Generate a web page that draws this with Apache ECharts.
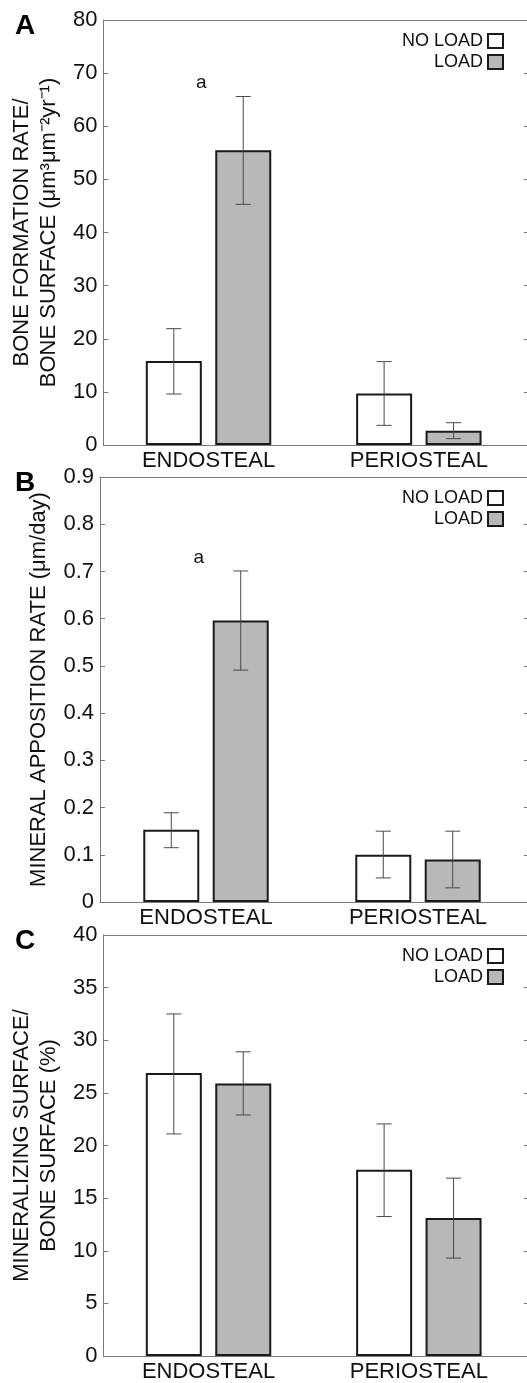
<!DOCTYPE html>
<html>
<head>
<meta charset="utf-8">
<script src="https://cdn.jsdelivr.net/npm/echarts@6/dist/echarts.min.js"></script>
<style>
  html, body { margin: 0; padding: 0; background: #fff; }
  #chart { width: 527px; height: 1383px; }
</style>
</head>
<body>
<div id="chart"></div>
<script>
// categories and series names
var sites = ['ENDOSTEAL', 'PERIOSTEAL'];
var groups = ['NO LOAD', 'LOAD'];

// panel A - bone formation rate
var bfrNoLoad = [15.8, 9.7];
var bfrNoLoadErr = [[9.6, 21.9], [3.7, 15.7]];
var bfrLoad = [55.5, 2.7];
var bfrLoadErr = [[45.3, 65.6], [1.2, 4.2]];

// panel B - mineral apposition rate
var marNoLoad = [0.153, 0.100];
var marNoLoadErr = [[0.115, 0.189], [0.051, 0.150]];
var marLoad = [0.596, 0.090];
var marLoadErr = [[0.491, 0.701], [0.030, 0.150]];

// panel C - mineralizing surface
var msNoLoad = [26.9, 17.7];
var msNoLoadErr = [[21.1, 32.5], [13.25, 22.05]];
var msLoad = [25.9, 13.1];
var msLoadErr = [[22.9, 28.9], [9.3, 16.9]];

// y axis ranges
var yMax = [80, 0.9, 40];
var yStep = [10, 0.1, 5];
var yNames = [
  'BONE FORMATION RATE/\nBONE SURFACE (μm³μm⁻²yr⁻¹)',
  'MINERAL APPOSITION RATE (μm/day)',
  'MINERALIZING SURFACE/\nBONE SURFACE (%)'
];
var panelLetters = ['A', 'B', 'C'];
// significance marks: [panel, site, value, text]
var sigMarks = [[0, 'ENDOSTEAL', 68.2, 'a'], [1, 'ENDOSTEAL', 0.73, 'a']];

var panels = [
  { noLoad: bfrNoLoad, noLoadErr: bfrNoLoadErr, load: bfrLoad, loadErr: bfrLoadErr },
  { noLoad: marNoLoad, noLoadErr: marNoLoadErr, load: marLoad, loadErr: marLoadErr },
  { noLoad: msNoLoad, noLoadErr: msNoLoadErr, load: msLoad, loadErr: msLoadErr }
];

var font = 'Liberation Sans, Arial, Helvetica, sans-serif';
var gridTops = [20, 477, 935];
var gridH = 425;
var barW = 56;
var barGap = '24%';
var axisGray = '#7a7a7a';

var grids = [], xAxes = [], yAxes = [], series = [], legends = [], titles = [];

panels.forEach(function (p, i) {
  grids.push({ left: 100, right: 3, top: gridTops[i], height: gridH });
  xAxes.push({
    type: 'category', gridIndex: i, data: sites,
    axisLine: { onZero: false, lineStyle: { color: axisGray, width: 1 } },
    axisTick: { show: false },
    axisLabel: { color: '#111', fontSize: 22, fontFamily: font, margin: 5 }
  });
  // top frame line
  xAxes.push({
    type: 'category', gridIndex: i, data: sites, position: 'top',
    axisLine: { show: true, onZero: false, lineStyle: { color: axisGray, width: 1 } },
    axisTick: { show: false }, axisLabel: { show: false }
  });
  yAxes.push({
    type: 'value', gridIndex: i, min: 0, max: yMax[i], interval: yStep[i],
    name: yNames[i], nameLocation: 'middle', nameGap: i === 1 ? 41 : 37,
    nameTextStyle: { color: '#111', fontSize: 22, fontFamily: font, lineHeight: 27 },
    axisLine: { show: true, lineStyle: { color: axisGray } },
    axisTick: { show: true, inside: true, length: 5, lineStyle: { color: axisGray } },
    axisLabel: { color: '#111', fontSize: 22, fontFamily: font, margin: 6 },
    splitLine: { show: false }
  });
  yAxes.push({
    type: 'value', gridIndex: i, position: 'right', min: 0, max: yMax[i], interval: yStep[i],
    axisLine: { show: false },
    axisTick: { show: true, inside: false, length: 5, lineStyle: { color: axisGray } },
    axisLabel: { show: false },
    splitLine: { show: false }
  });

  var marks = sigMarks.filter(function (m) { return m[0] === i; }).map(function (m) {
    return { coord: [m[1], m[2]], value: m[3] };
  });

  series.push({
    name: groups[0], type: 'bar', xAxisIndex: i * 2, yAxisIndex: i * 2,
    data: p.noLoad, barWidth: barW, barGap: barGap,
    itemStyle: { color: '#ffffff', borderColor: '#1a1a1a', borderWidth: 2 }
  });
  series.push({
    name: groups[1], type: 'bar', xAxisIndex: i * 2, yAxisIndex: i * 2,
    data: p.load, barWidth: barW, barGap: barGap,
    itemStyle: { color: '#b8b8b8', borderColor: '#1a1a1a', borderWidth: 2 },
    markPoint: marks.length ? {
      symbol: 'circle', symbolSize: 0, silent: true,
      label: { show: true, formatter: '{c}', color: '#111', fontSize: 19, fontFamily: font, offset: [-42, 0] },
      data: marks
    } : undefined
  });

  // error bars, offset to the same slot as each bar
  [[p.noLoadErr, -1], [p.loadErr, 1]].forEach(function (e) {
    var errs = e[0], side = e[1];
    series.push({
      type: 'custom', xAxisIndex: i * 2, yAxisIndex: i * 2, silent: true, z: 5,
      data: errs.map(function (r, k) { return [k, r[0], r[1]]; }),
      renderItem: function (params, api) {
        var lo = api.coord([api.value(0), api.value(1)]);
        var hi = api.coord([api.value(0), api.value(2)]);
        var x = lo[0] + side * (barW / 2 + barW * 0.12);
        var cap = 7.5;
        var st = { stroke: '#4a4a4a', lineWidth: 1 };
        return {
          type: 'group',
          children: [
            { type: 'line', shape: { x1: x, y1: lo[1], x2: x, y2: hi[1] }, style: st },
            { type: 'line', shape: { x1: x - cap, y1: lo[1], x2: x + cap, y2: lo[1] }, style: st },
            { type: 'line', shape: { x1: x - cap, y1: hi[1], x2: x + cap, y2: hi[1] }, style: st }
          ]
        };
      }
    });
  });

  legends.push({
    data: groups, orient: 'vertical', align: 'right', icon: 'rect',
    right: 18, top: gridTops[i] + 7,
    itemWidth: 15, itemHeight: 14, itemGap: 3,
    selectedMode: false,
    textStyle: { color: '#111', fontSize: 18, fontFamily: font }
  });

  titles.push({
    text: panelLetters[i], left: 10, top: gridTops[i] - 13,
    textStyle: { color: '#000', fontSize: 28, fontWeight: 'bold', fontFamily: font }
  });
});

var chart = echarts.init(document.getElementById('chart'), null, { renderer: 'canvas' });
chart.setOption({
  animation: false,
  backgroundColor: '#fff',
  title: titles,
  legend: legends,
  grid: grids,
  xAxis: xAxes,
  yAxis: yAxes,
  series: series
});
</script>
</body>
</html>
